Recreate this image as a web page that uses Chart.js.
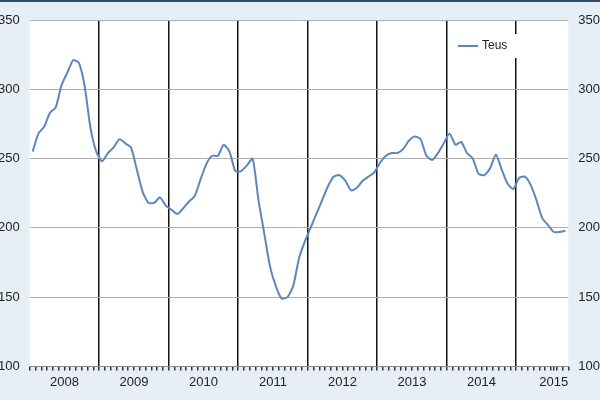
<!DOCTYPE html>
<html>
<head>
<script src="https://cdn.jsdelivr.net/npm/chart.js@4"></script>
<style>
  html, body { margin: 0; padding: 0; overflow: hidden; background: #e7eff6; }
  #wrap { position: absolute; left: -12px; top: 0; width: 622px; height: 400px; border-top: 2px solid #2d4f6e; box-sizing: border-box; }
</style>
</head>
<body>
<div id="wrap"><canvas id="c"></canvas></div>
<script>
const years = ['2008', '2009', '2010', '2011', '2012', '2013', '2014', '2015'];
const teus = [
  255, 268, 273, 283, 287, 303, 312, 321, 319, 302, 272, 255,
  248, 254, 258, 264, 261, 258, 242, 226, 218, 218, 222, 216,
  213, 210, 214, 219, 223, 235, 246, 252, 252, 260, 255, 241,
  241, 245, 250, 220, 196, 172, 158, 149, 150, 158, 178, 190,
  200, 210, 220, 230, 237, 238, 234, 227, 229, 234, 237, 240,
  247, 252, 254, 254, 257, 263, 266, 264, 252, 249, 254, 261,
  268, 260, 262, 254, 250, 239, 238, 243, 253, 242, 232, 228,
  236, 237, 231, 220, 207, 202, 197, 197, 198
];
const yTicks = [100, 150, 200, 250, 300, 350];
const months = teus.length;

const points = teus.map((v, i) => ({ x: i + 0.5, y: v }));

const bgPlugin = {
  id: 'bg',
  beforeDraw(chart) {
    const { ctx, chartArea: a } = chart;
    ctx.save();
    ctx.fillStyle = '#ffffff';
    ctx.fillRect(a.left, a.top, a.right - a.left, a.bottom - a.top);
    ctx.restore();
  }
};

const legendPlugin = {
  id: 'teusLegend',
  afterDraw(chart) {
    const { ctx } = chart;
    const x = 470, y = 44;
    ctx.save();
    ctx.fillStyle = '#ffffff';
    ctx.fillRect(x - 6, y - 12, 80, 24);
    ctx.strokeStyle = '#5b87bd';
    ctx.lineWidth = 2;
    ctx.beginPath();
    ctx.moveTo(x, y);
    ctx.lineTo(x + 20, y);
    ctx.stroke();
    ctx.fillStyle = '#222';
    ctx.font = '12px "Liberation Sans", Arial, sans-serif';
    ctx.textBaseline = 'middle';
    ctx.fillText('Teus', x + 24, y);
    ctx.restore();
  }
};

const axisOpts = (pos) => ({
  type: 'linear',
  position: pos,
  min: 100,
  max: 350,
  afterBuildTicks: (s) => { s.ticks = yTicks.map(v => ({ value: v })); },
  grid: { color: pos === 'left' ? '#b0b0b0' : 'transparent', lineWidth: 1, drawTicks: false },
  border: { display: false },
  ticks: { color: '#222', padding: 10, font: { size: 13, family: '"Liberation Sans", Arial, sans-serif' } }
});

new Chart(document.getElementById('c'), {
  type: 'line',
  data: {
    datasets: [{
      label: 'Teus',
      data: points,
      borderColor: '#5b87bd',
      borderWidth: 2,
      pointRadius: 0,
      tension: 0.2,
      fill: false
    }]
  },
  options: {
    responsive: true,
    maintainAspectRatio: false,
    animation: false,
    layout: { padding: { top: 18, right: 0, bottom: 6, left: 0 } },
    plugins: { legend: { display: false }, tooltip: { enabled: false } },
    scales: {
      x: {
        type: 'linear',
        min: 0,
        max: months,
        afterBuildTicks: (s) => {
          const t = [];
          for (let i = 0; i <= months; i++) t.push({ value: i });
          t.push({ value: 90 + 0.5 });
          s.ticks = t.sort((a, b) => a.value - b.value);
        },
        grid: {
          color: (c) => (c.tick && c.tick.value % 12 === 0 && c.tick.value > 0 && c.tick.value < months) ? '#111' : 'transparent',
          lineWidth: 1.5,
          tickLength: 4,
          tickColor: '#333'
        },
        border: { display: true, color: '#888' },
        ticks: {
          autoSkip: false,
          maxRotation: 0,
          color: '#222',
          padding: 4,
          font: { size: 13, family: '"Liberation Sans", Arial, sans-serif' },
          callback: (v) => {
            if (v === 90.5) return years[7];
            if (v % 12 === 6 && v < 90) return years[v / 12 - 0.5];
            return '';
          }
        }
      },
      y: axisOpts('left'),
      y2: axisOpts('right')
    }
  },
  plugins: [bgPlugin, legendPlugin]
});
</script>
</body>
</html>
